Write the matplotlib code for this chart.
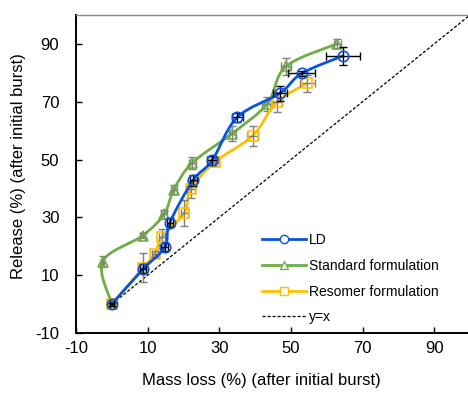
import numpy as np
import matplotlib.pyplot as plt
from matplotlib.path import Path
from matplotlib.patches import PathPatch
from matplotlib.lines import Line2D

plt.rcParams['font.family'] = ['Liberation Sans', 'DejaVu Sans']
plt.rcParams['axes.unicode_minus'] = False

# LD
ld_x = [0, 8.8, 14.8, 16.2, 22.7, 28.0, 35.0, 46.9, 53.0, 64.6]
ld_y = [0, 12.2, 19.7, 28.2, 42.8, 49.7, 64.6, 72.9, 79.8, 85.9]
ld_xerr = [0.5, 0.8, 1.0, 0.8, 1.0, 1.5, 1.5, 2.0, 3.8, 4.7]
ld_yerr = [0.5, 1.5, 1.5, 1.5, 2.0, 1.5, 1.5, 2.5, 1.0, 3.2]

# Standard formulation
std_x = [0, -2.6, 8.6, 14.6, 17.3, 22.5, 33.6, 43.4, 48.6, 63.0]
std_y = [0, 14.7, 23.7, 31.1, 39.6, 48.9, 59.0, 69.3, 82.2, 90.1]
std_xerr = [0.5, 0.5, 0.8, 0.8, 0.8, 1.0, 1.0, 1.5, 1.5, 1.0]
std_yerr = [0.5, 2.0, 1.0, 1.5, 1.5, 2.0, 2.5, 2.5, 2.9, 1.5]

# Resomer formulation
res_x = [0, 8.8, 12.0, 14.1, 20.2, 22.1, 28.8, 39.3, 46.0, 54.6]
res_y = [0, 12.6, 17.4, 23.3, 31.5, 39.7, 49.2, 58.2, 69.8, 76.4]
res_xerr = [0.5, 0.8, 0.8, 0.8, 1.0, 1.0, 1.2, 1.5, 1.5, 2.0]
res_yerr = [0.5, 5.0, 1.0, 2.8, 4.5, 3.0, 1.5, 3.5, 3.5, 2.9]

blue = '#0A52E6'
green = '#70AD47'
yellow = '#FFC000'
grey = '#7F7F7F'


def smooth_path(x, y):
    # Catmull-Rom style Bezier through the points (like Excel's smoothed line)
    p = np.column_stack([x, y]).astype(float)
    verts = [p[0]]
    codes = [Path.MOVETO]
    n = len(p)
    for i in range(n - 1):
        p0 = p[i - 1] if i > 0 else p[i]
        p1 = p[i]
        p2 = p[i + 1]
        p3 = p[i + 2] if i + 2 < n else p[i + 1]
        c1 = p1 + (p2 - p0) / 6.0
        c2 = p2 - (p3 - p1) / 6.0
        verts += [c1, c2, p2]
        codes += [Path.CURVE4] * 3
    return Path(verts, codes)


fig = plt.figure(figsize=(4.68, 4.03), dpi=100)
ax = fig.add_axes([76 / 468, 70 / 403, 394 / 468, 318 / 403])

ax.plot([0, 100], [0, 100], color='black', linestyle=(0, (2.5, 1.5)), linewidth=0.9, zorder=1)

series = [
    (std_x, std_y, std_xerr, std_yerr, green, '^', grey),
    (res_x, res_y, res_xerr, res_yerr, yellow, 's', grey),
    (ld_x, ld_y, ld_xerr, ld_yerr, blue, 'o', 'black'),
]
for z, (x, y, xe, ye, c, m, ec) in enumerate(series):
    ax.add_patch(PathPatch(smooth_path(x, y), facecolor='none', edgecolor=c,
                           linewidth=2.0, zorder=2 + z * 3))
    ax.errorbar(x, y, xerr=xe, yerr=ye, fmt='none', ecolor=ec, elinewidth=1.0,
                capsize=3, capthick=1.0, zorder=3 + z * 3)
    ax.plot(x, y, linestyle='none', marker=m, markersize=7.5, markerfacecolor='none',
            markeredgecolor=c, markeredgewidth=1.2, zorder=4 + z * 3)

ax.set_xlim(-10, 100)
ax.set_ylim(-10, 100)
ax.set_xticks([-10, 10, 30, 50, 70, 90])
ax.set_yticks([-10, 10, 30, 50, 70, 90])
ax.tick_params(axis='both', direction='in', length=4, width=1, labelsize=12)
ax.tick_params(axis='x', pad=6)
ax.tick_params(axis='y', pad=12)
for s in ['left', 'bottom']:
    ax.spines[s].set_linewidth(1.4)
ax.spines['top'].set_color('#888888')
ax.spines['top'].set_linewidth(1.0)
ax.spines['right'].set_visible(False)

ax.set_xlabel('Mass loss (%) (after initial burst)', fontsize=12)
ax.set_ylabel('Release (%) (after initial burst)', fontsize=12)
ax.xaxis.set_label_coords((261.5 - 76) / 394, -40 / 318)
ax.yaxis.set_label_coords(-(76 - 26) / 394, (333 - 166) / 318)

handles = [
    Line2D([], [], color=blue, linewidth=2.0, marker='o', markersize=6,
           markerfacecolor='white', markeredgecolor=blue),
    Line2D([], [], color=green, linewidth=2.0, marker='^', markersize=6,
           markerfacecolor='white', markeredgecolor=green),
    Line2D([], [], color=yellow, linewidth=2.0, marker='s', markersize=6,
           markerfacecolor='white', markeredgecolor=yellow),
    Line2D([], [], color='black', linestyle=(0, (2.5, 1.5)), linewidth=0.9),
]
labels = ['LD', 'Standard formulation', 'Resomer formulation', 'y=x']
ax.legend(handles, labels, loc='lower left', bbox_to_anchor=(0.44, -0.012),
          frameon=False, fontsize=10, handlelength=3.2, labelspacing=0.85,
          handletextpad=0.2)

fig.savefig('out.png', dpi=100)
